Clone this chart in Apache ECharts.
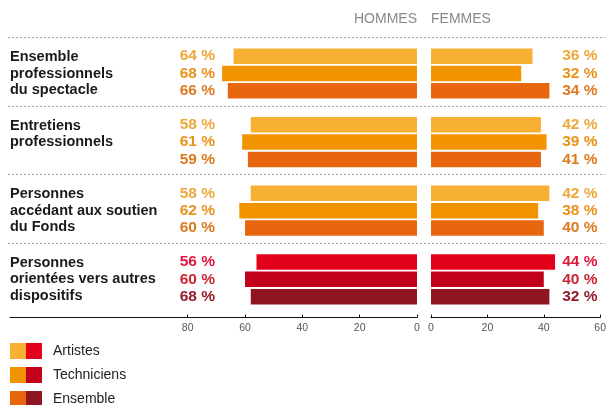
<!DOCTYPE html>
<html>
<head>
<meta charset="utf-8">
<title>Hommes / Femmes</title>
<script src="https://cdn.jsdelivr.net/npm/echarts@6/dist/echarts.min.js"></script>
<style>
    html, body { margin: 0; padding: 0; background: #fff; }
    #chart { width: 609px; height: 405px; }
</style>
</head>
<body>
<div id="chart"></div>
<script>
(function(window, echarts){
    'use strict';

    // groups, top to bottom
    var categories = [
        'Ensemble\nprofessionnels\ndu spectacle',
        'Entretiens\nprofessionnels',
        'Personnes\naccédant aux soutien\ndu Fonds',
        'Personnes\norientées vers autres\ndispositifs'
    ];
    var seriesNames = ['Artistes', 'Techniciens', 'Ensemble'];

    // bar lengths
    var hommesArtistes    = [64, 58, 58, 56];
    var hommesTechniciens = [68, 61, 62, 60];
    var hommesEnsemble    = [66, 59, 60, 58];
    var femmesArtistes    = [36, 39, 42, 44];
    var femmesTechniciens = [32, 41, 38, 40];
    var femmesEnsemble    = [42, 39, 40, 42];

    // printed percentages (as written on the original)
    var labelsHommesArtistes    = [64, 58, 58, 56];
    var labelsHommesTechniciens = [68, 61, 62, 60];
    var labelsHommesEnsemble    = [66, 59, 60, 68];
    var labelsFemmesArtistes    = [36, 42, 42, 44];
    var labelsFemmesTechniciens = [32, 39, 38, 40];
    var labelsFemmesEnsemble    = [34, 41, 40, 32];

    var hommesTicks = [0, 20, 40, 60, 80];
    var femmesTicks = [0, 20, 40, 60];

    // last group is drawn in reds
    var redGroup = 3;
    var orangeColors = ['#f7b032', '#f29400', '#e8670e'];
    var redColors    = ['#e2001a', '#c3001b', '#8e1620'];
    var orangeText   = ['#eca83c', '#e8921c', '#de791e'];
    var redText      = ['#e0173c', '#cd2433', '#961b2b'];

    var font = "'Liberation Sans', Arial, Helvetica, sans-serif";
    var top = 39.2, height = 274.4;

    var hommesSeries = [hommesArtistes, hommesTechniciens, hommesEnsemble];
    var femmesSeries = [femmesArtistes, femmesTechniciens, femmesEnsemble];
    var hommesLabels = [labelsHommesArtistes, labelsHommesTechniciens, labelsHommesEnsemble];
    var femmesLabels = [labelsFemmesArtistes, labelsFemmesTechniciens, labelsFemmesEnsemble];

    var colored = function(values, k) {
        return values.map(function(v, i) {
            return { value: v, itemStyle: { color: i === redGroup ? redColors[k] : orangeColors[k] } };
        });
    };

    // three stacked lines of percentages per group
    var rich = {};
    seriesNames.forEach(function(n, k) {
        rich['o' + k] = { color: orangeText[k], fontSize: 15.5, fontWeight: 'bold', lineHeight: 17.3, fontFamily: font };
        rich['r' + k] = { color: redText[k], fontSize: 15.5, fontWeight: 'bold', lineHeight: 17.3, fontFamily: font };
    });
    var pctFormatter = function(labels) {
        return function(value, i) {
            return labels.map(function(arr, k) {
                return '{' + (i === redGroup ? 'r' : 'o') + k + '|' + arr[i] + ' %}';
            }).join('\n');
        };
    };

    var swatch = function(c1, c2) {
        var svg = '<svg xmlns="http://www.w3.org/2000/svg" width="32" height="16">' +
            '<rect width="16" height="16" fill="' + c1 + '"/>' +
            '<rect x="16" width="16" height="16" fill="' + c2 + '"/></svg>';
        return 'image://data:image/svg+xml;charset=utf-8,' + encodeURIComponent(svg);
    };

    var hidden = { axisLine: { show: false }, axisTick: { show: false } };

    var bottomAxis = function(grid, ticks, extra) {
        var ax = {
            gridIndex: grid, type: 'value', min: 0, offset: 4,
            axisLine: { show: true, lineStyle: { color: '#111', width: 1 } },
            axisTick: { show: true, inside: true, length: 3, customValues: ticks, lineStyle: { color: '#111' } },
            axisLabel: { customValues: ticks, color: '#555', fontSize: 10.5, margin: 5, fontFamily: font },
            splitLine: { show: false }
        };
        for (var key in extra) { ax[key] = extra[key]; }
        return ax;
    };

    var series = [];
    seriesNames.forEach(function(name, k) {
        series.push({
            type: 'bar', name: name, xAxisIndex: 0, yAxisIndex: 0,
            barWidth: 15.5, barGap: '12%', silent: true,
            data: colored(hommesSeries[k], k)
        });
    });
    seriesNames.forEach(function(name, k) {
        series.push({
            type: 'bar', name: name, xAxisIndex: 1, yAxisIndex: 2,
            barWidth: 15.5, barGap: '12%', silent: true,
            data: colored(femmesSeries[k], k)
        });
    });

    var option = {
        animation: false,
        title: [
            { text: 'HOMMES', right: 192, top: 12, padding: 0,
              textStyle: { color: '#888', fontSize: 14, fontWeight: 'normal', fontFamily: font } },
            { text: 'FEMMES', left: 431, top: 12, padding: 0,
              textStyle: { color: '#888', fontSize: 14, fontWeight: 'normal', fontFamily: font } }
        ],
        legend: {
            orient: 'vertical', left: 10, top: 343, height: 120, padding: 0,
            itemWidth: 32, itemHeight: 16, itemGap: 8, selectedMode: false,
            textStyle: { color: '#222', fontSize: 14, fontFamily: font, padding: [0, 0, 0, 6] },
            data: seriesNames.map(function(n, k) {
                return { name: n, icon: swatch(orangeColors[k], redColors[k]) };
            })
        },
        grid: [
            { left: 10, width: 407, top: top, height: height },
            { left: 431, width: 173, top: top, height: height },
            { left: 8, right: 4, top: 37, height: 206.4 }
        ],
        xAxis: [
            bottomAxis(0, hommesTicks, { inverse: true, max: 142 }),
            bottomAxis(1, femmesTicks, { max: 60, interval: 20 }),
            { gridIndex: 2, type: 'value', show: false }
        ],
        yAxis: [
            { gridIndex: 0, type: 'category', data: categories, inverse: true,
              axisLine: hidden.axisLine, axisTick: hidden.axisTick,
              axisLabel: {
                  inside: true, margin: 0, color: '#1a1a1a', fontSize: 14.5, fontWeight: 'bold',
                  lineHeight: 16.5, fontFamily: font,
                  formatter: function(v) {
                      var lines = v.split('\n');
                      while (lines.length < 3) { lines.push(' '); }
                      return lines.join('\n');
                  }
              } },
            { gridIndex: 0, type: 'category', data: categories, inverse: true, position: 'left', offset: -207,
              axisLine: hidden.axisLine, axisTick: hidden.axisTick,
              axisLabel: { margin: 2, formatter: pctFormatter(hommesLabels), rich: rich } },
            { gridIndex: 1, type: 'category', data: categories, inverse: true,
              axisLine: hidden.axisLine, axisTick: hidden.axisTick, axisLabel: { show: false } },
            { gridIndex: 1, type: 'category', data: categories, inverse: true, position: 'right', offset: -40,
              axisLine: hidden.axisLine, axisTick: hidden.axisTick,
              axisLabel: { margin: 2, formatter: pctFormatter(femmesLabels), rich: rich } },
            // dotted separators between groups
            { gridIndex: 2, type: 'value', inverse: true, min: 0, max: 3, interval: 1,
              axisLine: hidden.axisLine, axisTick: hidden.axisTick, axisLabel: { show: false },
              splitLine: { show: true, lineStyle: { color: '#a0a0a0', width: 1, type: [2, 2] } } }
        ],
        series: series
    };

    var chart = echarts.init(document.getElementById('chart'));
    chart.setOption(option);

})(window, window.echarts);
</script>
</body>
</html>
